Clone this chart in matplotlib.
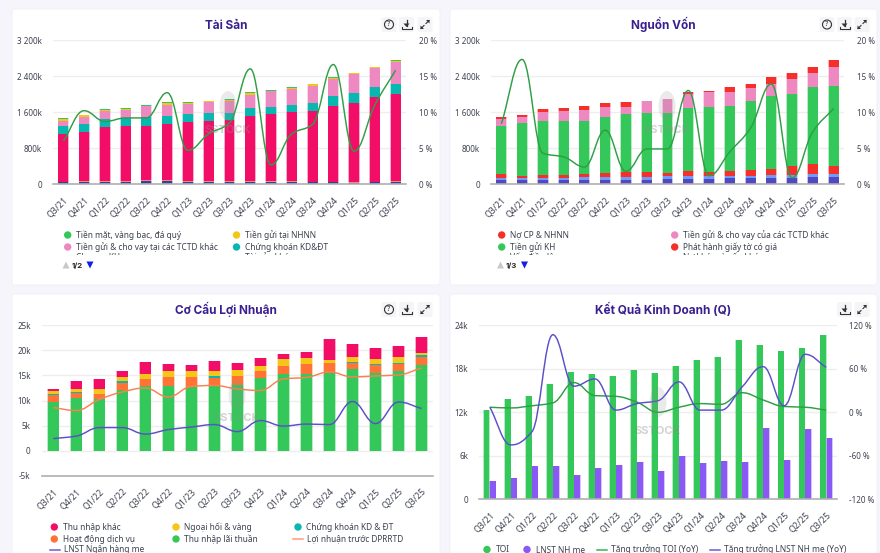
import numpy as np
import matplotlib
matplotlib.use('Agg')
import matplotlib.pyplot as plt
from matplotlib.patches import FancyBboxPatch, PathPatch, Rectangle, Ellipse, Polygon, Circle
from matplotlib.path import Path

plt.rcParams['font.family'] = ['Noto Sans', 'DejaVu Sans']

quarters = ['Q3/21', 'Q4/21', 'Q1/22', 'Q2/22', 'Q3/22', 'Q4/22', 'Q1/23', 'Q2/23', 'Q3/23',
            'Q4/23', 'Q1/24', 'Q2/24', 'Q3/24', 'Q4/24', 'Q1/25', 'Q2/25', 'Q3/25']

# Tai san (k)
a_navy = [50, 50, 50, 55, 70, 75, 55, 50, 50, 55, 50, 50, 45, 45, 30, 45, 45]
a_salmon = [5, 20, 20, 25, 20, 15, 25, 20, 20, 15, 20, 20, 10, 10, 15, 10, 20]
a_loans = [1068, 1090, 1201, 1206, 1211, 1255, 1309, 1327, 1356, 1452, 1482, 1534, 1578, 1689, 1766, 1874, 1945]
a_secur = [177, 177, 177, 177, 192, 177, 177, 192, 162, 177, 162, 162, 177, 222, 222, 229, 214]
a_interbank = [111, 155, 185, 192, 236, 244, 222, 236, 251, 281, 347, 347, 377, 370, 421, 429, 495]
a_sbv = [37, 37, 22, 22, 15, 37, 15, 22, 30, 37, 7, 30, 30, 30, 7, 7, 7]
a_cash = [15, 7, 15, 15, 7, 15, 22, 7, 15, 22, 15, 15, 15, 15, 7, 7, 22]
a_line = [6.0, 10.2, 8.7, 9.2, 9.2, 12.7, 4.7, 7.0, 8.5, 16.0, 2.7, 7.0, 8.3, 16.6, 4.6, 11.0, 15.8]

# Nguon von (k)
b_navy = [35] * 17
b_indigo = [61, 61, 61, 61, 61, 61, 68, 68, 83, 90, 90, 98, 98, 113, 113, 128, 128]
b_blue = [52, 52, 52, 52, 59, 59, 59, 59, 66, 59, 52, 52, 52, 52, 52, 66, 66]
b_bonds = [74, 44, 52, 52, 81, 89, 118, 118, 74, 104, 104, 104, 133, 140, 207, 214, 177]
b_deposit = [1079, 1160, 1212, 1212, 1175, 1249, 1271, 1308, 1315, 1411, 1426, 1456, 1522, 1611, 1604, 1714, 1781]
b_interbank = [155, 148, 200, 222, 236, 214, 163, 259, 310, 296, 333, 303, 296, 273, 318, 310, 406]
b_gov = [30, 37, 52, 59, 96, 103, 111, 7, 7, 44, 37, 111, 89, 155, 140, 133, 155]
b_line = [8.4, 17.3, 4.3, 3.8, 2.4, 7.5, 1.8, 4.9, 4.9, 13.0, 1.2, 4.5, 7.8, 13.9, 0.9, 7.3, 10.5]

# Co cau loi nhuan (k)
c_nii = [9.8, 10.4, 10.3, 12.1, 12.9, 12.8, 12.7, 12.8, 13.0, 14.4, 15.2, 15.3, 15.5, 16.3, 15.4, 15.8, 17.1]
c_fee = [1.2, 1.1, 1.0, 1.4, 1.4, 1.8, 1.9, 1.7, 1.8, 1.5, 1.7, 2.0, 1.9, 1.2, 1.6, 1.5, 1.6]
c_secur = [0.3, 0.2, 0.0, 0.3, 0.0, 0.0, 0.0, 0.3, 0.0, 0.0, 0.0, 0.0, 0.0, 0.2, 0.3, 0.2, 0.3]
c_fx = [0.5, 0.6, 0.9, 0.9, 0.9, 1.3, 1.2, 1.0, 1.2, 0.9, 1.4, 1.1, 0.7, 0.9, 1.0, 1.1, 0.5]
c_other = [0.5, 1.6, 2.1, 1.2, 2.4, 1.4, 1.2, 2.0, 1.4, 1.6, 0.9, 1.2, 4.1, 2.7, 2.1, 2.3, 3.1]
c_secur_neg = [0, 0, -0.12, 0, -0.15, 0, 0, 0, 0, 0, 0, 0, -0.1, 0, 0, 0, 0]
c_pbt = [8.6, 8.0, 10.2, 11.7, 12.5, 10.7, 12.8, 13.0, 12.3, 12.0, 14.3, 14.6, 15.7, 14.7, 14.9, 15.1, 16.5]
c_npat = [2.4, 2.9, 4.6, 4.6, 3.3, 4.2, 4.7, 5.2, 3.8, 6.0, 4.9, 5.3, 5.2, 9.8, 5.4, 9.7, 8.4]

# Ket qua kinh doanh (k, %)
d_toi = [12.3, 13.9, 14.2, 15.9, 17.5, 17.3, 17.0, 17.8, 17.4, 18.4, 19.2, 19.6, 22.0, 21.3, 20.5, 20.9, 22.6]
d_npat = [2.5, 2.9, 4.6, 4.6, 3.4, 4.3, 4.8, 5.15, 3.9, 6.0, 5.0, 5.3, 5.2, 9.8, 5.4, 9.65, 8.4]
d_toi_yoy = [7, 6, 9, 13, 41, 23, 22, 14, 0, 7, 12, 11, 27, 17, 8, 7, 3]
d_npat_yoy = [7, -45, -27, 107, 36, 46, 3, 12, 16, 42, 3, 3, 35, 63, 9, 80, 62]

GREEN = '#34c759'
CRIMSON = '#f20d67'
TEAL = '#08b8b0'
PINK = '#ee88c0'
YELLOW = '#f5c518'
NAVY = '#33409c'
INDIGO = '#5248c4'
LBLUE = '#6f9cf5'
SALMON = '#f5897a'
RED = '#f5302a'
ORANGE = '#ff7436'
VIOLET = '#8a58f5'
TXT = '#3d4250'
W, H = 880, 553
YTICK = 5.8
XTICK = 6.3
LEG = 6.0

fig = plt.figure(figsize=(W / 100, H / 100), dpi=100, facecolor='#f5f5fb')
bg = fig.add_axes([0, 0, 1, 1], zorder=0)
bg.set_xlim(0, W)
bg.set_ylim(H, 0)
bg.axis('off')
top = fig.add_axes([0, 0, 1, 1], zorder=10)
top.set_xlim(0, W)
top.set_ylim(H, 0)
top.axis('off')
top.patch.set_alpha(0)


def card(x0, y0, x1, y1):
    bg.add_patch(FancyBboxPatch((x0 + 3, y0 + 3), x1 - x0 - 6, y1 - y0 - 6, boxstyle='round,pad=3',
                                fc='white', ec='#f0f0f6', lw=0.6))


def panel(x0, y0, x1, y1):
    return fig.add_axes([x0 / W, 1 - y1 / H, (x1 - x0) / W, (y1 - y0) / H], zorder=2)


def style_axis(ax, ylim, ticks, labels):
    ax.patch.set_alpha(0)
    ax.set_xlim(-0.5, 16.5)
    ax.set_ylim(*ylim)
    ax.set_yticks(ticks)
    ax.set_yticklabels(labels, fontsize=YTICK, color=TXT)
    ax.set_xticks(range(17))
    ax.set_xticklabels(quarters, fontsize=XTICK, color=TXT, rotation=45, ha='right', rotation_mode='anchor')
    ax.tick_params(length=0, axis='y', pad=8)
    ax.tick_params(length=0, axis='x', pad=8)
    ax.grid(axis='y', color='#eeeeee', lw=1)
    ax.set_axisbelow(True)
    for s in ax.spines.values():
        s.set_visible(False)
    ax.spines['bottom'].set_visible(True)
    ax.spines['bottom'].set_color('#b0b0b0')
    ax.spines['bottom'].set_linewidth(1.2)


def right_axis(ax, ylim, ticks, labels):
    ax2 = ax.twinx()
    ax2.patch.set_alpha(0)
    ax2.set_ylim(*ylim)
    ax2.set_yticks(ticks)
    ax2.set_yticklabels(labels, fontsize=YTICK, color=TXT)
    ax2.tick_params(length=0, pad=9)
    for s in ax2.spines.values():
        s.set_visible(False)
    return ax2


def stack(ax, series, colors, width=0.48):
    base = np.zeros(17)
    for vals, c in zip(series, colors):
        vals = np.array(vals, dtype=float)
        # pale halo behind, solid bar on top, so thin layers stay visible
        ax.bar(range(17), vals, width + 0.06, bottom=base, color=c, alpha=0.35, linewidth=0)
        ax.bar(range(17), vals, width, bottom=base, color=c, linewidth=0)
        base = base + vals


def smooth_line(ax, vals, color, lw=1.05):
    # monotone cubic through the points, as bezier segments
    x = np.arange(len(vals), dtype=float)
    y = np.array(vals, dtype=float)
    d = np.diff(y)
    m = np.zeros(len(y))
    for i in range(1, len(y) - 1):
        if d[i - 1] * d[i] > 0:
            m[i] = 2 * d[i - 1] * d[i] / (d[i - 1] + d[i])
    m[0] = d[0]
    m[-1] = d[-1]
    verts = [(x[0], y[0])]
    codes = [Path.MOVETO]
    for i in range(len(y) - 1):
        verts += [(x[i] + 0.4, y[i] + m[i] * 0.4), (x[i + 1] - 0.4, y[i + 1] - m[i + 1] * 0.4), (x[i + 1], y[i + 1])]
        codes += [Path.CURVE4] * 3
    ax.add_patch(PathPatch(Path(verts, codes), fc='none', ec=color, lw=lw, zorder=5, clip_on=False))


def legend_dot(x, y, color, label, ty=None):
    bg.add_patch(Circle((x, y), 3.7, fc=color, ec='none'))
    bg.text(x + 8.5, y if ty is None else ty, label, fontsize=LEG, color=TXT, va='center')


def legend_line(x, y, color, label):
    bg.plot([x, x + 10], [y, y], color=color, lw=1.1)
    bg.text(x + 14, y, label, fontsize=LEG, color=TXT, va='center')


def pager(x, y, label):
    bg.add_patch(Polygon([(x - 3.5, y + 3.5), (x + 3.5, y + 3.5), (x, y - 3.5)], fc='#c8c8c8', ec='none', zorder=6))
    bg.text(x + 5.5, y + 0.5, label, fontsize=5.6, color='#222222', va='center', fontweight='bold',
            family=['Inter', 'DejaVu Sans'], zorder=6)
    bg.add_patch(Polygon([(x + 20.5, y - 3.5), (x + 27.5, y - 3.5), (x + 24, y + 3.5)], fc='#1020e8', ec='none', zorder=6))


def icons(xs, y):
    for kind, x in xs:
        bg.add_patch(FancyBboxPatch((x - 5.5, y - 5.5), 11, 11, boxstyle='round,pad=2', fc='#f5f5f7', ec='none'))
        if kind == 'q':
            bg.add_patch(Circle((x, y), 4.5, fc='none', ec='#333333', lw=0.8))
            bg.text(x, y, '?', fontsize=5.5, ha='center', va='center', color='#333333', fontweight='bold')
        elif kind == 'd':
            bg.plot([x, x], [y - 5, y + 1], color='#333333', lw=0.9)
            bg.add_patch(Polygon([(x - 3, y - 1), (x + 3, y - 1), (x, y + 2.5)], fc='#333333', ec='none'))
            bg.plot([x - 5, x - 5, x + 5, x + 5], [y + 2, y + 4.5, y + 4.5, y + 2], color='#333333', lw=0.8)
        else:
            bg.plot([x - 4, x - 1], [y + 4, y + 1], color='#333333', lw=0.8)
            bg.plot([x + 1, x + 4], [y - 1, y - 4], color='#333333', lw=0.8)
            bg.add_patch(Polygon([(x - 4.5, y + 4.5), (x - 4.5, y + 1), (x - 1, y + 4.5)], fc='#333333', ec='none'))
            bg.add_patch(Polygon([(x + 4.5, y - 4.5), (x + 4.5, y - 1), (x + 1, y - 4.5)], fc='#333333', ec='none'))


def title(x, y, s):
    bg.text(x, y, s, fontsize=8.5, fontweight='bold', color='#3a1f8f', ha='center', va='baseline',
            family=['Inter', 'DejaVu Sans'])


def watermark(x, y, dy):
    top.add_patch(Ellipse((x, y), 17, 30, fc='#8f8f8f', ec='none', alpha=0.18))
    top.text(x, y + dy, 'SSTOCK', fontsize=8, fontweight='bold', color='#8f8f8f', alpha=0.4, ha='center', va='center',
             family=['Inter', 'DejaVu Sans'])


card(12, 9, 440, 285)
card(450, 9, 877, 285)
card(12, 294, 440, 570)
card(450, 294, 877, 570)

# Tai san
ax = panel(53, 40, 406, 184.3)
style_axis(ax, (0, 3200), [0, 800, 1600, 2400, 3200], ['0', '800k', '1 600k', '2 400k', '3 200k'])
stack(ax, [a_navy, a_salmon, a_loans, a_secur, a_interbank, a_sbv, a_cash],
      [NAVY, SALMON, CRIMSON, TEAL, PINK, YELLOW, GREEN])
ax2 = right_axis(ax, (0, 20), [0, 5, 10, 15, 20], ['0 %', '5 %', '10 %', '15 %', '20 %'])
smooth_line(ax2, a_line, '#2f9e44')
title(226, 29, 'Tài Sản')
icons([('q', 389), ('d', 406.5), ('e', 425)], 24.5)
legend_dot(67.7, 235, GREEN, 'Tiền mặt, vàng bạc, đá quý')
legend_dot(236.5, 235, YELLOW, 'Tiền gửi tại NHNN')
legend_dot(67.7, 247, PINK, 'Tiền gửi & cho vay tại các TCTD khác')
legend_dot(236.5, 247, TEAL, 'Chứng khoán KD&ĐT')
legend_dot(67.7, 259, CRIMSON, 'Cho vay KH', 257)
legend_dot(236.5, 259, SALMON, 'Tài sản khác', 257)
bg.add_patch(Rectangle((50, 255), 340, 8, fc='white', ec='none', zorder=5))
pager(66, 265, '1/2')

# Nguon von
ax = panel(491, 40, 844, 184.3)
style_axis(ax, (0, 3200), [0, 800, 1600, 2400, 3200], ['0', '800k', '1 600k', '2 400k', '3 200k'])
stack(ax, [b_navy, b_indigo, b_blue, b_bonds, b_deposit, b_interbank, b_gov],
      [NAVY, INDIGO, LBLUE, RED, GREEN, PINK, RED])
ax2 = right_axis(ax, (0, 20), [0, 5, 10, 15, 20], ['0 %', '5 %', '10 %', '15 %', '20 %'])
smooth_line(ax2, b_line, '#2f9e44')
title(663, 29, 'Nguồn Vốn')
icons([('q', 827), ('d', 844.5), ('e', 862)], 24.5)
legend_dot(501.7, 235, RED, 'Nợ CP & NHNN')
legend_dot(674.7, 235, PINK, 'Tiền gửi & cho vay của các TCTD khác')
legend_dot(501.7, 247, GREEN, 'Tiền gửi KH')
legend_dot(674.7, 247, RED, 'Phát hành giấy tờ có giá')
legend_dot(501.7, 259, LBLUE, 'Vốn điều lệ', 257)
legend_dot(674.7, 259, SALMON, 'Nợ khác và vốn khác', 257)
bg.add_patch(Rectangle((490, 255), 340, 8, fc='white', ec='none', zorder=5))
pager(500.5, 265, '1/3')

# Co cau loi nhuan
ax = panel(41.7, 325.3, 433, 475.7)
style_axis(ax, (-5, 25), [-5, 0, 5, 10, 15, 20, 25], ['-5k', '0', '5k', '10k', '15k', '20k', '25k'])
stack(ax, [c_nii, c_fee, c_secur, c_fx, c_other], [GREEN, ORANGE, TEAL, YELLOW, CRIMSON])
ax.bar(range(17), c_secur_neg, 0.48, color=TEAL, linewidth=0)
smooth_line(ax, c_pbt, '#ff7f50')
smooth_line(ax, c_npat, '#5b50c8')
title(226, 314, 'Cơ Cấu Lợi Nhuận')
icons([('q', 389), ('d', 406.5), ('e', 425)], 309.5)
legend_dot(54.3, 527, CRIMSON, 'Thu nhập khác')
legend_dot(176, 527, YELLOW, 'Ngoại hối & vàng')
legend_dot(298, 527, TEAL, 'Chứng khoán KD & ĐT')
legend_dot(54.3, 539, ORANGE, 'Hoạt động dịch vụ')
legend_dot(176, 539, GREEN, 'Thu nhập lãi thuần')
legend_line(293, 539, '#ff9a76', 'Lợi nhuận trước DPRRTD')
legend_line(49.5, 549.5, '#6a5fd0', 'LNST Ngân hàng mẹ')

# Ket qua kinh doanh
ax = panel(479.3, 325.3, 836.7, 499.3)
style_axis(ax, (0, 24), [0, 6, 12, 18, 24], ['0', '6k', '12k', '18k', '24k'])
x = np.arange(17)
for offs, vals, c in [(-0.15, d_toi, GREEN), (0.15, d_npat, VIOLET)]:
    ax.bar(x + offs, vals, 0.33, color=c, alpha=0.35, linewidth=0)
    ax.bar(x + offs, vals, 0.27, color=c, linewidth=0)
ax2 = right_axis(ax, (-120, 120), [-120, -60, 0, 60, 120], ['-120 %', '-60 %', '0 %', '60 %', '120 %'])
smooth_line(ax2, d_toi_yoy, '#2f9e44')
smooth_line(ax2, d_npat_yoy, '#5b50c8')
title(663, 314, 'Kết Quả Kinh Doanh (Q)')
icons([('d', 844.5), ('e', 862)], 309.5)
legend_dot(487, 549.5, GREEN, 'TOI')
legend_dot(527, 549.5, VIOLET, 'LNST NH mẹ')
legend_line(597, 549.5, '#34b553', 'Tăng trưởng TOI (YoY)')
legend_line(710, 549.5, '#6a5fd0', 'Tăng trưởng LNST NH mẹ (YoY)')

watermark(228, 106, 24)
watermark(667, 106, 24)
watermark(237, 395, 23)
watermark(658, 402, 29)

fig.savefig('out.png', dpi=100, facecolor=fig.get_facecolor())
